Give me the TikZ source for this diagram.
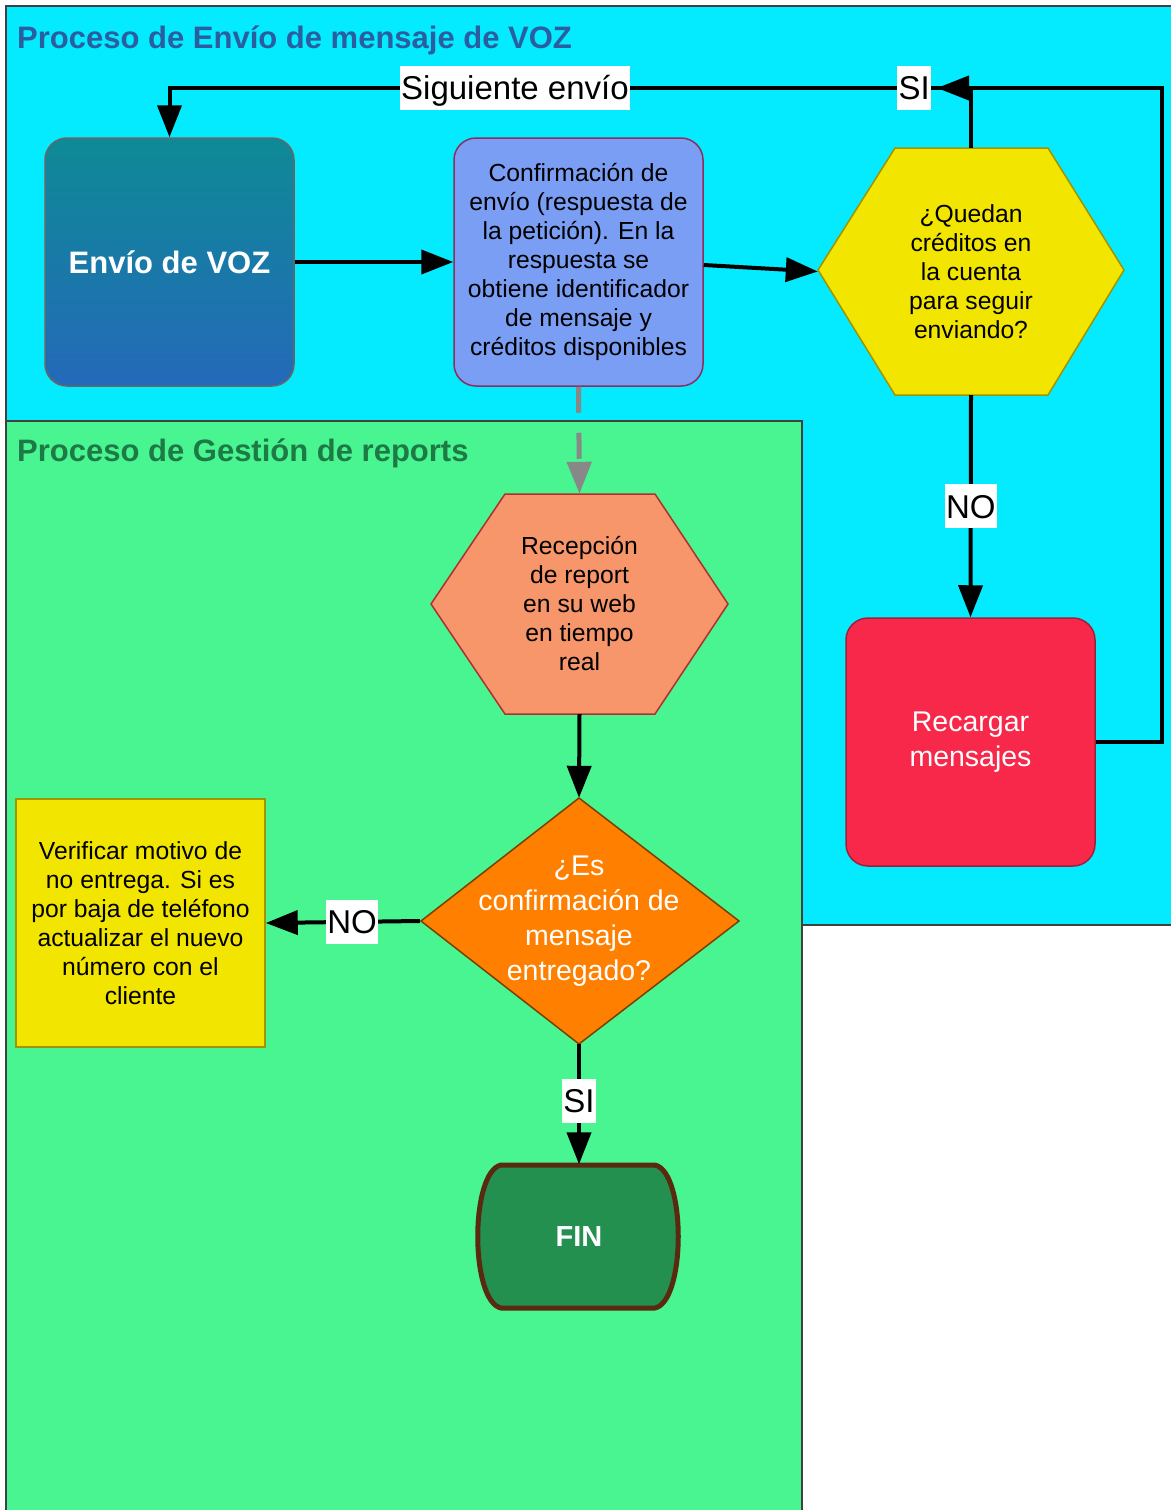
\documentclass[tikz,border=0pt]{standalone}
\usepackage{fontspec}
\setmainfont{Liberation Sans}
\usetikzlibrary{arrows.meta,calc}
\definecolor{cyanbg}{HTML}{04EAFF}
\definecolor{greenbg}{HTML}{48F591}
\definecolor{titleblue}{HTML}{2B5EA0}
\definecolor{titlegreen}{HTML}{1E7A45}
\definecolor{envtop}{HTML}{0E8A96}
\definecolor{envbot}{HTML}{2469B9}
\definecolor{confill}{HTML}{7B9EF5}
\definecolor{conbord}{HTML}{8A2F5F}
\definecolor{yelfill}{HTML}{F2E600}
\definecolor{yelbord}{HTML}{A09400}
\definecolor{redfill}{HTML}{F7284A}
\definecolor{redbord}{HTML}{A0203A}
\definecolor{salfill}{HTML}{F7966B}
\definecolor{salbord}{HTML}{B03030}
\definecolor{orgfill}{HTML}{FF8000}
\definecolor{orgbord}{HTML}{7A4000}
\definecolor{finfill}{HTML}{239050}
\definecolor{finbord}{HTML}{5A2A10}
\definecolor{grayarr}{HTML}{888888}
\newcommand\fsz[2]{\fontsize{#1}{#2}\selectfont}
\begin{document}
\begin{tikzpicture}[x=1pt,y=-1pt,
  arr/.style={line width=4pt,-{Triangle[length=32pt,width=24pt]}},
  lbl/.style={fill=white,text=black,inner xsep=1.5pt,inner ysep=2.8pt,text height=31pt,text depth=7.4pt,font=\fsz{33}{38}},
  txt/.style={align=center,font=\fsz{24.7}{29}},
  holder/.style={inner sep=0pt,draw=none},
  box/.style={rounded corners=22pt,line width=1.5pt,minimum width=249pt,minimum height=248pt,inner sep=0pt}
]
\useasboundingbox (0,0) rectangle (1170,1510);
% lanes
\filldraw[fill=cyanbg,draw=black!75,line width=1.5pt] (6,6) rectangle (1180,925);
\filldraw[fill=greenbg,draw=black!75,line width=1.5pt] (6,421) rectangle (802,1520);
\node[anchor=base west,inner sep=0pt,text=titleblue,font=\fsz{31}{36}\bfseries] (t1) at (17,48) {Proceso de Envío de mensaje de VOZ};
\node[anchor=base west,inner sep=0pt,text=titlegreen,font=\fsz{31}{36}\bfseries] (t2) at (17,461) {Proceso de Gestión de reports};

% shapes drawn directly
\filldraw[fill=yelfill,draw=yelbord,line width=1.5pt] (818,270) -- (895,148) -- (1048,148) -- (1124,270) -- (1048,395) -- (895,395) -- cycle;
\filldraw[fill=salfill,draw=salbord,line width=1.5pt] (431,604) -- (505,494) -- (655,494) -- (728,604) -- (655,714) -- (505,714) -- cycle;
\filldraw[fill=orgfill,draw=orgbord,line width=1.5pt] (421,921) -- (579,798) -- (739,921) -- (579,1044) -- cycle;
\filldraw[fill=finfill,draw=finbord,line width=5pt] (501,1165) -- (655,1165) .. controls (686,1172) and (686,1301) .. (655,1308) -- (501,1308) .. controls (470,1301) and (470,1172) .. (501,1165) -- cycle;

% nodes
\node[box,top color=envtop,bottom color=envbot,draw=black!60,text=white,font=\fsz{31}{36}\bfseries] (env) at (169.5,262) {Envío de VOZ};
\node[box,fill=confill,draw=conbord,txt] (conf) at (578.5,262) {Confirmación de\\envío (respuesta de\\la petición). En la\\respuesta se\\obtiene identificador\\de mensaje y\\créditos disponibles};
\node[holder,minimum width=306pt,minimum height=247pt,txt] (hexY) at (971,271.5) {¿Quedan\\créditos en\\la cuenta\\para seguir\\enviando?};
\node[box,fill=redfill,draw=redbord,text=white,align=center,font=\fsz{28.5}{35}] (rec) at (970.5,742) {Recargar\\mensajes};
\node[holder,minimum width=297pt,minimum height=220pt,txt] (recep) at (579.5,604) {Recepción\\de report\\en su web\\en tiempo\\real};
\node[holder,minimum width=318pt,minimum height=246pt,text=white,align=center,font=\fsz{28.5}{35}] (dia) at (579,921) {¿Es\\confirmación de\\mensaje\\entregado?};
\node[fill=yelfill,draw=yelbord,line width=1.5pt,minimum width=249pt,minimum height=248pt,inner sep=0pt,txt] (ver) at (140.5,923) {Verificar motivo de\\no entrega. Si es\\por baja de teléfono\\actualizar el nuevo\\número con el\\cliente};
\node[holder,minimum width=200pt,minimum height=145pt,text=white,font=\fsz{29}{34}\bfseries] (fin) at (579,1237) {FIN};

% connectors
\coordinate (topY) at (0,88);
\coordinate (rr) at (1162,88);
\coordinate (siend) at (937,88);
\draw[arr] (env.east) -- (conf.west);
\draw[arr] ([yshift=-3pt]conf.east) -- (hexY.west);
\draw[arr] (hexY.north) -- (hexY.north |- topY) -- node[lbl,pos=0.071]{SI} node[lbl,pos=0.569]{Siguiente envío} (env.north |- topY) -- (env.north);
\draw[arr] (rec.east) -| (rr) -- (siend);
\draw[arr] (hexY.south) -- node[lbl]{NO} (rec.north);
\draw[line width=5pt,draw=grayarr,dash pattern=on 26pt off 20pt,-{Triangle[length=32pt,width=24pt,fill=grayarr]}] (conf.south) -- (recep.north);
\draw[arr] (recep.south) -- (dia.north);
\draw[arr] (dia.west) -- node[lbl,pos=0.44]{NO} (ver.east);
\draw[arr] (dia.south) -- node[lbl,pos=0.47]{SI} (fin.north);
\end{tikzpicture}
\end{document}
